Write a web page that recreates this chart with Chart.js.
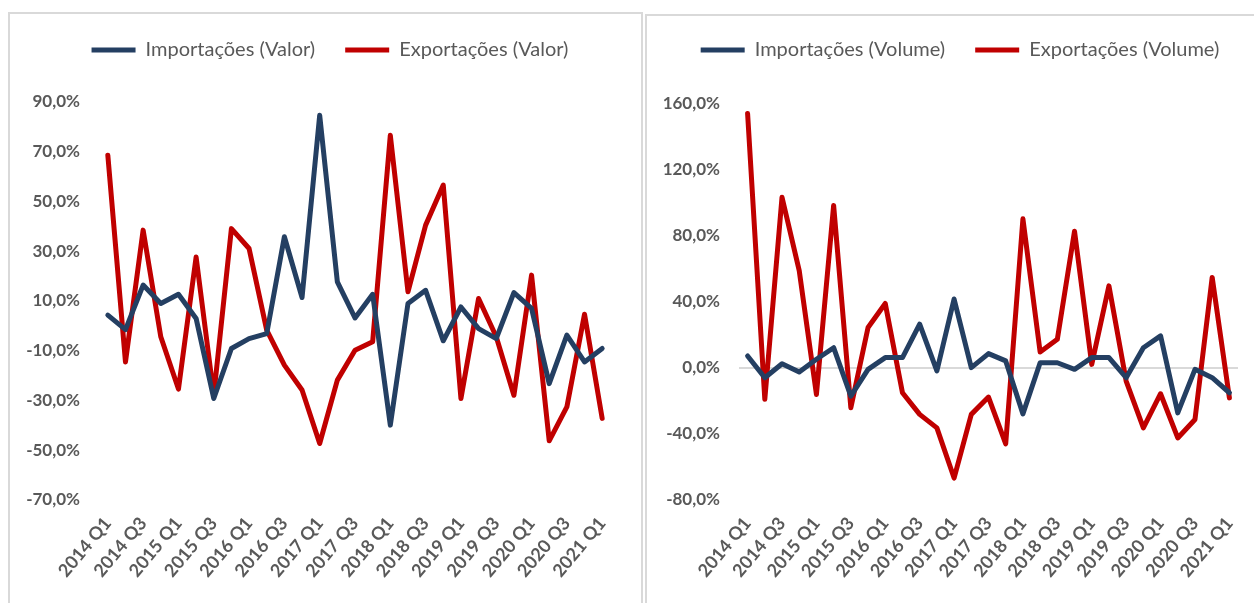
<!DOCTYPE html>
<html>
<head>
<meta charset="utf-8">
<script src="https://cdn.jsdelivr.net/npm/chart.js@4"></script>
<style>
  body { margin: 0; width: 1254px; height: 603px; overflow: hidden; background: #fff; position: relative; }
  .panel { position: absolute; border: 2px solid #d9d9d9; border-bottom: none; box-sizing: border-box; }
  #p1 { left: 8px; top: 12px; width: 635px; height: 600px; }
  #p2 { left: 645px; top: 14px; width: 630px; height: 600px; }
  canvas { position: absolute; }
  #c1 { left: 10px; top: 10px; }
  #c2 { left: 647px; top: 10px; }
</style>
</head>
<body>
<div class="panel" id="p1"></div>
<div class="panel" id="p2"></div>
<canvas id="c1" width="640" height="593"></canvas>
<canvas id="c2" width="626" height="593"></canvas>
<script>
const quarters = [
  '2014 Q1', '2014 Q2', '2014 Q3', '2014 Q4',
  '2015 Q1', '2015 Q2', '2015 Q3', '2015 Q4',
  '2016 Q1', '2016 Q2', '2016 Q3', '2016 Q4',
  '2017 Q1', '2017 Q2', '2017 Q3', '2017 Q4',
  '2018 Q1', '2018 Q2', '2018 Q3', '2018 Q4',
  '2019 Q1', '2019 Q2', '2019 Q3', '2019 Q4',
  '2020 Q1', '2020 Q2', '2020 Q3', '2020 Q4',
  '2021 Q1'
];

const importValor = [4.3, -1.5, 16.4, 9.0, 12.7, 3.0, -29.2, -9.1, -5.1, -3.1, 35.8, 11.4, 84.7, 17.7, 3.2, 12.7,
  -39.9, 9.0, 14.3, -6.0, 7.6, -1.1, -5.1, 13.4, 7.0, -23.2, -3.7, -14.5, -9.1];
const exportValor = [68.6, -14.5, 38.5, -4.4, -25.4, 27.7, -27.9, 39.1, 31.1, -1.7, -15.8, -25.8, -47.3, -21.8, -9.8, -6.4,
  76.6, 13.7, 40.5, 56.6, -29.2, 11.0, -4.4, -27.9, 20.4, -46.2, -32.6, 4.7, -37.2];

const importVolume = [7.3, -5.9, 2.6, -2.4, 5.3, 12.3, -17.0, -0.8, 6.3, 6.3, 26.6, -1.8, 41.8, 0.2, 8.7, 4.3,
  -27.8, 3.2, 3.2, -0.8, 6.3, 6.3, -5.9, 12.3, 19.5, -27.2, -0.8, -5.9, -15.0];
const exportVolume = [154.2, -19.0, 103.5, 59.0, -16.0, 98.5, -24.1, 24.5, 39.1, -15.0, -28.1, -36.3, -66.7, -28.1, -17.6, -46.0,
  90.4, 9.7, 17.4, 82.9, 2.2, 49.8, -7.9, -36.3, -15.6, -42.4, -31.2, 54.9, -18.1];

const valorTicks = { min: -70, max: 90, step: 20 };
const volumeTicks = { min: -80, max: 160, step: 40 };

const navy = '#243F62';
const red = '#C00000';
const textGrey = '#595959';
const fontFamily = "Lato, 'Liberation Sans', sans-serif";

function pct(v) {
  return v.toFixed(1).replace('.', ',') + '%';
}

function lineSet(label, data, color) {
  return {
    label: label,
    data: data,
    borderColor: color,
    backgroundColor: color,
    borderWidth: 5,
    pointRadius: 0,
    tension: 0,
    borderCapStyle: 'round',
    borderJoinStyle: 'round',
    pointStyle: 'line',
    yAxisID: 'y'
  };
}

// stretch the legend box down to the top of the plot
function legendHeight(h) {
  return {
    id: 'legendHeight',
    beforeInit(chart) {
      const fit = chart.legend.fit;
      chart.legend.fit = function () {
        fit.call(this);
        this.height = h;
      };
    }
  };
}

// left: y axis width, right: spare room right of the plot, top/bottom: plot edges in the canvas
function makeChart(id, names, imp, exp, range, box) {
  new Chart(document.getElementById(id), {
    type: 'line',
    data: {
      labels: quarters,
      datasets: [lineSet(names[0], imp, navy), lineSet(names[1], exp, red)]
    },
    options: {
      responsive: false,
      animation: false,
      layout: { padding: 0 },
      plugins: {
        legend: {
          labels: {
            usePointStyle: true,
            pointStyleWidth: 44,
            padding: 30,
            color: textGrey,
            font: { family: fontFamily, size: 20 }
          }
        },
        tooltip: { enabled: false }
      },
      scales: {
        x: {
          offset: true,
          grid: { display: false, drawTicks: false },
          border: { display: false },
          afterFit(scale) { scale.height = box.bottom; },
          ticks: {
            autoSkip: false,
            maxRotation: 50,
            minRotation: 50,
            padding: 13,
            color: textGrey,
            font: { family: fontFamily, size: 18, weight: 'bold' },
            callback(value, index) {
              return index % 2 === 0 ? quarters[index] : '';
            }
          }
        },
        y: {
          min: range.min,
          max: range.max,
          afterFit(scale) { scale.width = box.left; },
          grid: {
            drawTicks: false,
            lineWidth: 2,
            color(ctx) { return ctx.tick && ctx.tick.value === 0 ? '#d9d9d9' : 'rgba(0,0,0,0)'; }
          },
          border: { display: false },
          ticks: {
            stepSize: range.step,
            padding: 19,
            color: textGrey,
            font: { family: fontFamily, size: 17, weight: 'bold' },
            callback(value) { return pct(value); }
          }
        },
        spare: {
          position: 'right',
          min: range.min,
          max: range.max,
          afterFit(scale) { scale.width = box.right; },
          grid: { display: false, drawTicks: false },
          border: { display: false },
          ticks: { display: false }
        }
      }
    },
    plugins: [legendHeight(box.top)]
  });
}

makeChart('c1', ['Importações (Valor)', 'Exportações (Valor)'], importValor, exportValor,
  valorTicks, { left: 89, right: 39, top: 92, bottom: 103 });
makeChart('c2', ['Importações (Volume)', 'Exportações (Volume)'], importVolume, exportVolume,
  volumeTicks, { left: 92, right: 35, top: 94, bottom: 103 });
</script>
</body>
</html>
